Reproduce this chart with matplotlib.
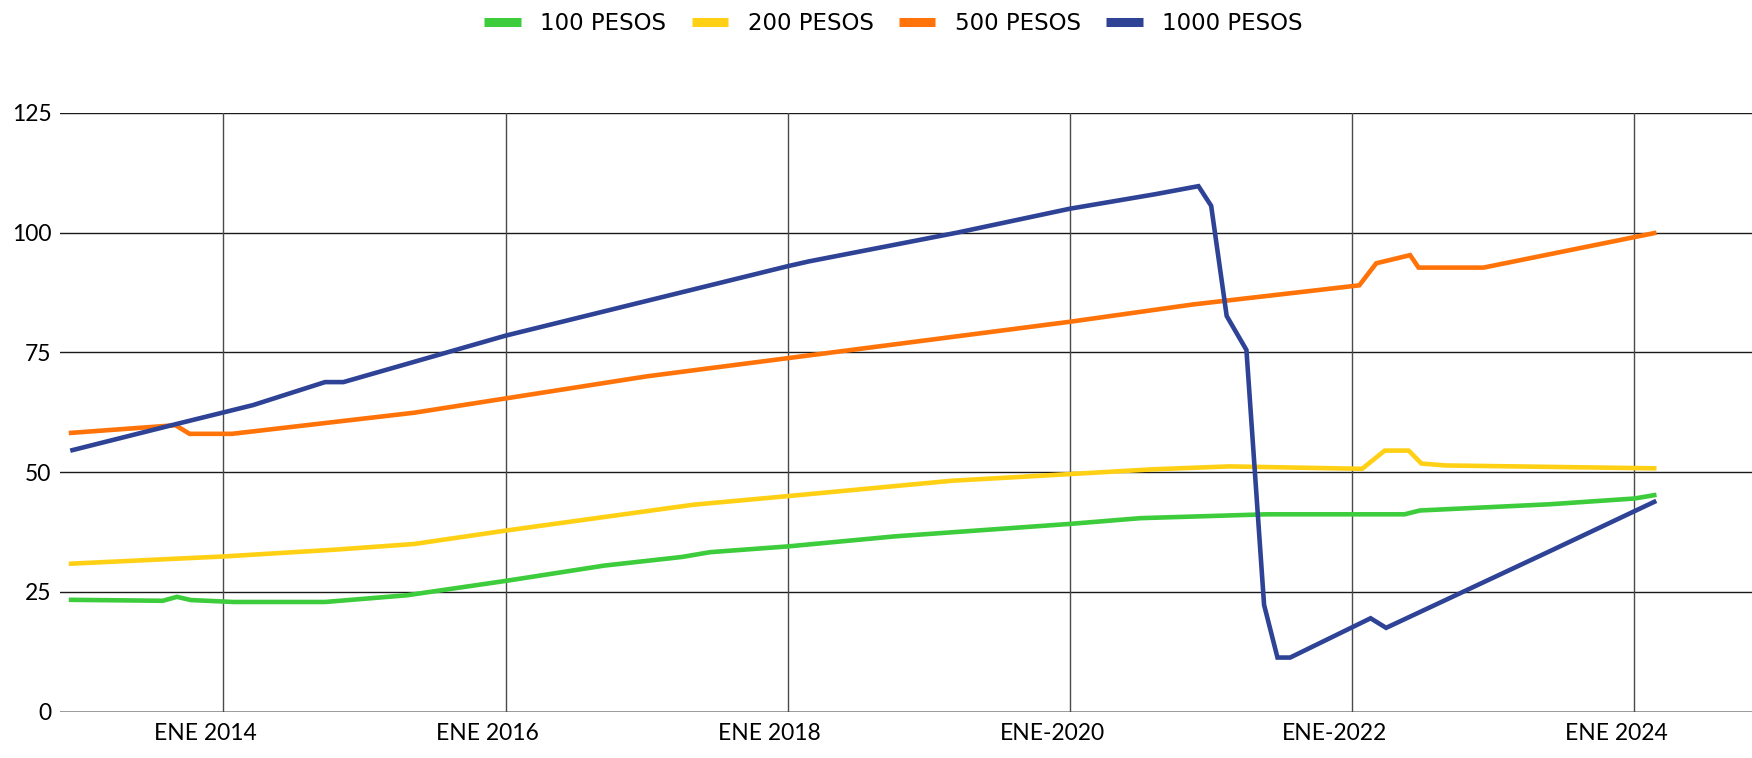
import matplotlib
matplotlib.use("Agg")
import matplotlib.pyplot as plt
from matplotlib.lines import Line2D
from matplotlib.transforms import ScaledTranslation

# values, x in decimal years
x_100 = [2012.92, 2013.57, 2013.67, 2013.77, 2014.07, 2014.72, 2015.3, 2016.0, 2016.7,
         2017.25, 2017.45, 2018.0, 2018.76, 2020.0, 2020.5, 2021.39, 2022.37, 2022.48,
         2023.4, 2024.0, 2024.14]
y_100 = [23.35, 23.15, 23.97, 23.3, 22.9, 22.9, 24.3, 27.3, 30.5,
         32.3, 33.3, 34.5, 36.6, 39.2, 40.4, 41.2, 41.2, 42.0,
         43.3, 44.5, 45.2]

x_200 = [2012.92, 2014.0, 2014.78, 2015.35, 2016.0, 2017.33, 2018.0, 2019.16, 2020.0,
         2020.59, 2021.13, 2022.07, 2022.23, 2022.40, 2022.49, 2022.66, 2024.14]
y_200 = [30.9, 32.4, 33.8, 35.0, 37.8, 43.2, 45.0, 48.2, 49.6,
         50.6, 51.2, 50.7, 54.5, 54.5, 51.8, 51.4, 50.8]

x_500 = [2012.92, 2013.66, 2013.76, 2014.06, 2015.35, 2017.0, 2018.0, 2020.0, 2020.87,
         2022.05, 2022.17, 2022.41, 2022.47, 2022.93, 2024.14]
y_500 = [58.2, 59.8, 58.0, 58.0, 62.4, 70.0, 73.8, 81.4, 85.0,
         89.0, 93.6, 95.3, 92.7, 92.7, 99.9]

x_1000 = [2012.93, 2013.66, 2013.99, 2014.21, 2014.72, 2014.85, 2016.0, 2018.0, 2018.15,
          2019.2, 2020.0, 2020.6, 2020.91, 2021.0, 2021.11, 2021.25, 2021.375, 2021.47,
          2021.56, 2022.13, 2022.24, 2023.40, 2024.14]
y_1000 = [54.6, 60.0, 62.4, 64.0, 68.8, 68.8, 78.5, 93.0, 94.0,
          100.0, 105.0, 108.0, 109.7, 105.6, 82.6, 75.5, 22.3, 11.3,
          11.3, 19.5, 17.5, 33.5, 43.8]

labels = ["100 PESOS", "200 PESOS", "500 PESOS", "1000 PESOS"]
colors = ["#3ccc3c", "#ffd014", "#ff7308", "#2e4396"]

tick_years = [2014, 2016, 2018, 2020, 2022, 2024]
tick_labels = ["ENE 2014", "ENE 2016", "ENE 2018", "ENE-2020", "ENE-2022", "ENE 2024"]
y_ticks = [0, 25, 50, 75, 100, 125]

fig = plt.figure(figsize=(17.52, 7.58), dpi=100)
ax = fig.add_axes([0.0342, 0.0611, 0.9658, 0.7900])

# grid
for v in y_ticks[1:]:
    ax.axhline(v, color="#1a1a1a", lw=1.0, zorder=1)
ax.axhline(0, color="#8a8a8a", lw=1.2, zorder=1)
for t in tick_years:
    ax.axvline(t, color="#4a4a4a", lw=1.0, zorder=1)

series = [(x_100, y_100), (x_200, y_200), (x_500, y_500), (x_1000, y_1000)]
for (xs, ys), c in zip(series, colors):
    ax.plot(xs, ys, color=c, lw=3.3, solid_joinstyle="miter", zorder=3)

ax.set_xlim(2012.841, 2024.833)
ax.set_ylim(0, 125)
ax.set_xticks(tick_years)
ax.set_xticklabels(tick_labels, family="Lato", fontsize=16.5)
ax.set_yticks(y_ticks)
ax.set_yticklabels([str(v) for v in y_ticks], family="Lato", fontsize=16.5)
ax.tick_params(axis="both", length=0)
ax.tick_params(axis="x", pad=8)
ax.tick_params(axis="y", pad=6)
for s in ax.spines.values():
    s.set_visible(False)

# x labels sit a bit left of their gridline in the original
shift = ScaledTranslation(-18 / 100, 0, fig.dpi_scale_trans)
for lab in ax.get_xticklabels():
    lab.set_transform(lab.get_transform() + shift)

handles = [Line2D([], [], color=c, lw=6.5, solid_capstyle="butt") for c in colors]
fig.legend(handles, labels, loc="upper center", bbox_to_anchor=(0.51, 1.012), ncol=4,
           frameon=False, handlelength=1.6, handletextpad=0.85, columnspacing=1.1,
           prop={"family": ["Liberation Sans Narrow", "DejaVu Sans"], "size": 16.5})

fig.savefig("out.png", dpi=100)
